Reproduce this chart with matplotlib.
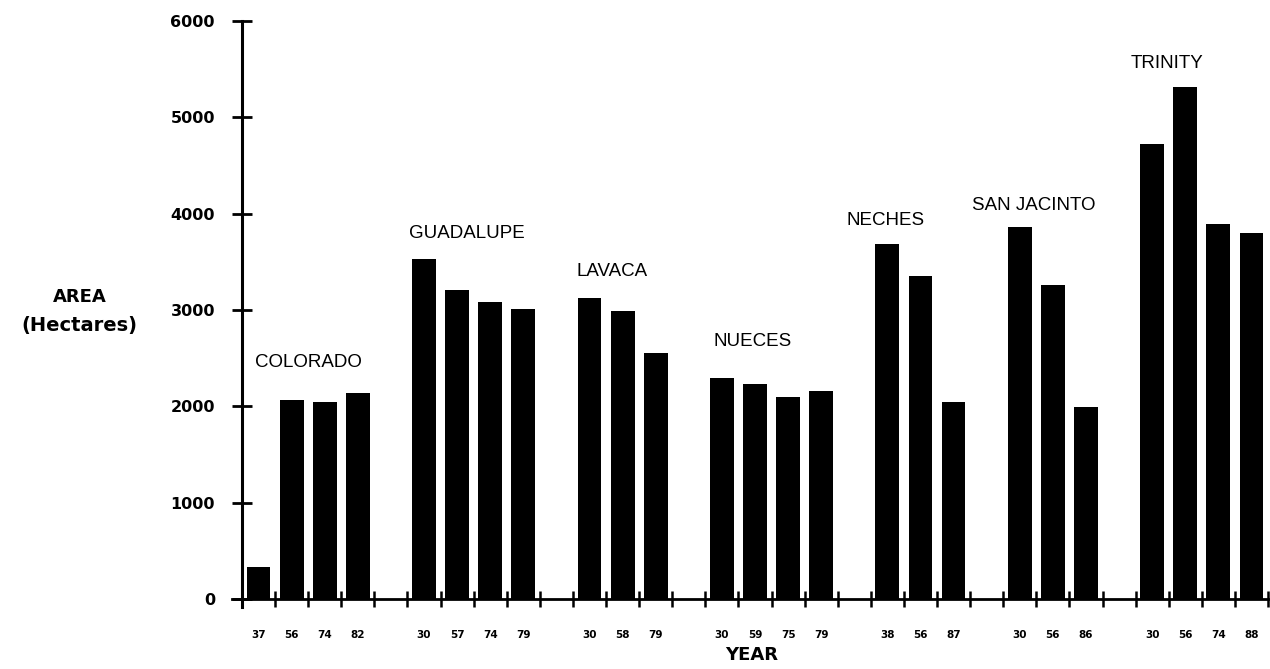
import matplotlib
matplotlib.use("Agg")
import matplotlib.pyplot as plt
import numpy as np

# ---- data ----
rivers = ["COLORADO", "GUADALUPE", "LAVACA", "NUECES", "NECHES", "SAN JACINTO", "TRINITY"]
colorado_years = ["37", "56", "74", "82"]
colorado_area = [330, 2070, 2050, 2135]
guadalupe_years = ["30", "57", "74", "79"]
guadalupe_area = [3530, 3210, 3080, 3010]
lavaca_years = ["30", "58", "79"]
lavaca_area = [3120, 2990, 2550]
nueces_years = ["30", "59", "75", "79"]
nueces_area = [2290, 2235, 2095, 2155]
neches_years = ["38", "56", "87"]
neches_area = [3680, 3355, 2045]
sanjacinto_years = ["30", "56", "86"]
sanjacinto_area = [3860, 3255, 1990]
trinity_years = ["30", "56", "74", "88"]
trinity_area = [4720, 5310, 3890, 3800]

groups_years = [colorado_years, guadalupe_years, lavaca_years, nueces_years,
                neches_years, sanjacinto_years, trinity_years]
groups_area = [colorado_area, guadalupe_area, lavaca_area, nueces_area,
               neches_area, sanjacinto_area, trinity_area]
y_ticks = [0, 1000, 2000, 3000, 4000, 5000, 6000]

# label placement (data coords) for the river names
label_pos = [(2.02, 2450), (6.8, 3790), (11.18, 3400), (15.44, 2670),
             (19.43, 3930), (23.93, 4080), (27.95, 5560)]

# ---- layout: one slot per bar, one empty slot between groups ----
positions, heights, ylabels = [], [], []
slot = 0
for yrs, vals in zip(groups_years, groups_area):
    for yr, v in zip(yrs, vals):
        positions.append(slot + 0.5)
        heights.append(v)
        ylabels.append(yr)
        slot += 1
    slot += 1
n_slots = slot - 1

fig = plt.figure(figsize=(12.7, 6.69), dpi=100)
W, H = 1270, 669
x0px, pxu = 242, (1268 - 242) / 31.0
xmin, xmax = -0.3, 31.0
y0px, pyu = 599, (599 - 21) / 6000.0
ymin, ymax = -100, 6000
left = (x0px + xmin * pxu) / W
right = (x0px + xmax * pxu) / W
bottom = 1 - (y0px - ymin * pyu) / H
top = 1 - (y0px - ymax * pyu) / H
ax = fig.add_axes([left, bottom, right - left, top - bottom])

ax.bar(positions, heights, width=0.72, color="black", edgecolor="none", zorder=3)

ax.set_xlim(xmin, xmax)
ax.set_ylim(ymin, ymax)

for s in ["top", "right"]:
    ax.spines[s].set_visible(False)
ax.spines["left"].set_position(("data", 0))
ax.spines["bottom"].set_position(("data", 0))
ax.spines["left"].set_bounds(-80, 6000)
ax.spines["bottom"].set_bounds(xmin, xmax)
ax.spines["left"].set_linewidth(2.2)
ax.spines["bottom"].set_linewidth(2.0)

ax.set_yticks(y_ticks)
ax.set_yticklabels([str(v) for v in y_ticks], fontfamily="DejaVu Sans",
                   fontweight="bold", fontsize=11.5)
ax.tick_params(axis="y", direction="inout", length=15, width=2, pad=12)

ax.set_xticks(np.arange(1, n_slots + 1))
ax.set_xticklabels([])
ax.tick_params(axis="x", which="major", direction="inout", length=12, width=1.8)
ax.set_xticks(positions, minor=True)
ax.set_xticklabels(ylabels, minor=True, fontfamily="DejaVu Sans",
                   fontweight="bold", fontsize=7.5)
ax.tick_params(axis="x", which="minor", length=0, pad=22)

for name, (lx, ly) in zip(rivers, label_pos):
    ax.text(lx, ly, name, ha="center", va="center", fontsize=13.5,
            fontfamily="Liberation Sans", color="black")

fig.text(752 / W, 1 - 655 / H, "YEAR", ha="center", va="center",
         fontfamily="DejaVu Sans", fontweight="bold", fontsize=13)
fig.text(80 / W, 1 - 297 / H, "AREA", ha="center", va="center",
         fontfamily="DejaVu Sans", fontweight="bold", fontsize=13)
fig.text(79 / W, 1 - 326 / H, "(Hectares)", ha="center", va="center",
         fontfamily="DejaVu Sans", fontweight="bold", fontsize=14)

fig.savefig("out.png", dpi=100, facecolor="white")
